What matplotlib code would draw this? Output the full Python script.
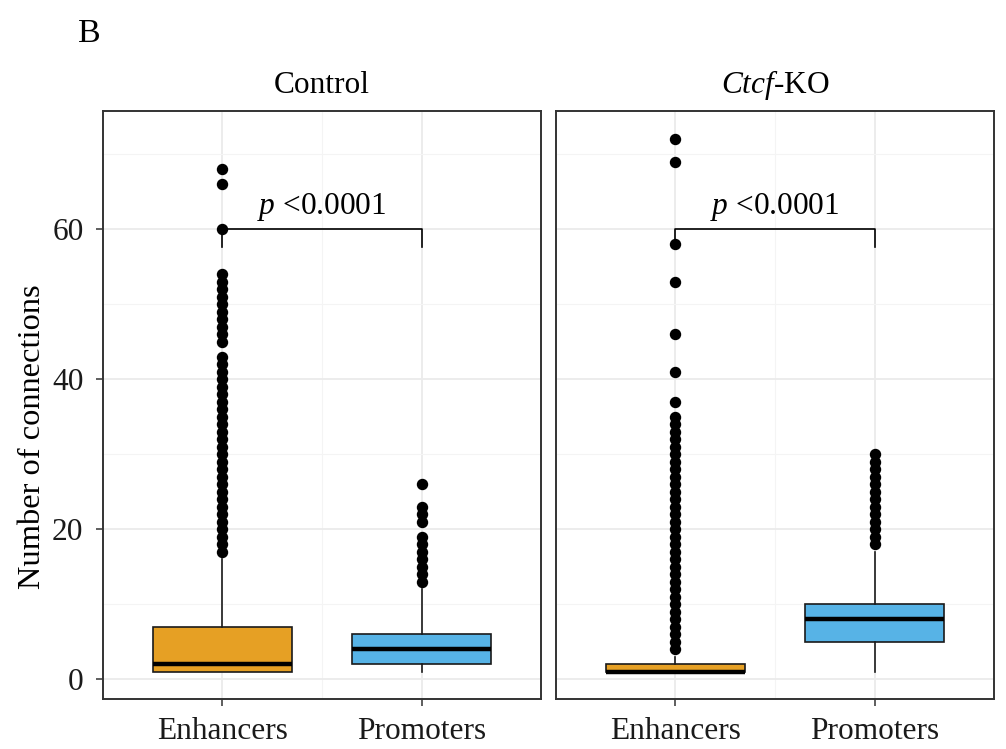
import matplotlib
matplotlib.use("Agg")
import matplotlib.pyplot as plt

plt.rcParams["font.family"] = ["Liberation Serif", "DejaVu Serif"]
plt.rcParams["mathtext.fontset"] = "custom"
plt.rcParams["mathtext.rm"] = "Liberation Serif"
plt.rcParams["mathtext.it"] = "Liberation Serif:italic"

# box summaries per panel: [Enhancers, Promoters]
categories = ["Enhancers", "Promoters"]
panels = ["Control", r"$\it{Ctcf}$-KO"]

ctrl_q1 = [1, 2]
ctrl_med = [2, 4]
ctrl_q3 = [7, 6]
ctrl_lo = [1, 1]
ctrl_hi = [16, 12]
ctrl_enh_out = [17, 18, 19, 20, 21, 22, 23, 24, 25, 26, 27, 28, 29, 30, 31, 32,
                33, 34, 35, 36, 37, 38, 39, 40, 41, 42, 43, 45, 46, 47, 48, 49,
                50, 51, 52, 53, 54, 60, 66, 68]
ctrl_pro_out = [13, 14, 15, 16, 17, 18, 19, 21, 22, 23, 26]

ko_q1 = [1, 5]
ko_med = [1, 8]
ko_q3 = [2, 10]
ko_lo = [1, 1]
ko_hi = [3, 17]
ko_enh_out = [4, 5, 6, 7, 8, 9, 10, 11, 12, 13, 14, 15, 16, 17, 18, 19, 20,
              21, 22, 23, 24, 25, 26, 27, 28, 29, 30, 31, 32, 33, 34, 35, 37,
              41, 46, 53, 58, 69, 72]
ko_pro_out = [18, 19, 20, 21, 22, 23, 24, 25, 26, 27, 28, 29, 30]

bracket_y = 60
p_label = "<0.0001"

fill_colors = ["#E6A024", "#57B3E6"]
fs = 22.6


def make_stats(q1, med, q3, lo, hi, outliers):
    stats = []
    for i in range(len(q1)):
        stats.append(dict(q1=q1[i], med=med[i], q3=q3[i],
                          whislo=lo[i], whishi=hi[i], fliers=outliers[i]))
    return stats


fig = plt.figure(figsize=(10.06, 7.49), dpi=100)
ax_l = fig.add_axes([0.1024, 0.0668, 0.4354, 0.7850])
ax_r = fig.add_axes([0.5527, 0.0668, 0.4354, 0.7850])

all_stats = [
    make_stats(ctrl_q1, ctrl_med, ctrl_q3, ctrl_lo, ctrl_hi, [ctrl_enh_out, ctrl_pro_out]),
    make_stats(ko_q1, ko_med, ko_q3, ko_lo, ko_hi, [ko_enh_out, ko_pro_out]),
]

for ax, stats, title in zip([ax_l, ax_r], all_stats, panels):
    ax.set_axisbelow(True)
    bp = ax.bxp(stats, positions=[1, 2], widths=0.7, patch_artist=True,
                showcaps=False,
                boxprops=dict(edgecolor="#1a1a1a", linewidth=1.2),
                medianprops=dict(color="black", linewidth=3.2),
                whiskerprops=dict(color="#1a1a1a", linewidth=1.2),
                flierprops=dict(marker="o", markerfacecolor="black",
                                markeredgecolor="black", markersize=7.2),
                zorder=3)
    for patch, c in zip(bp["boxes"], fill_colors):
        patch.set_facecolor(c)

    # significance bracket
    tip = 2.3
    ax.plot([1, 1, 2, 2], [bracket_y - tip, bracket_y, bracket_y, bracket_y - tip],
            color="black", linewidth=1.2, zorder=2)
    ax.text(1.5, bracket_y + 2.1, r"$\it{p}$ " + p_label, ha="center",
            va="baseline", fontsize=fs)

    ax.set_title(title, fontsize=fs, pad=13)
    ax.set_xlim(0.4, 2.6)
    ax.set_ylim(-2.66, 75.8)
    ax.set_xticks([1, 2])
    ax.set_xticklabels(categories)
    ax.set_yticks([0, 20, 40, 60])
    ax.set_yticks([10, 30, 50, 70], minor=True)
    ax.set_xticks([1.5], minor=True)
    ax.grid(True, which="major", color="#EBEBEB", linewidth=1.3)
    ax.grid(True, which="minor", color="#F4F4F4", linewidth=0.8)
    ax.tick_params(axis="both", which="major", length=5, width=1.1,
                   color="#333333", labelsize=fs, labelcolor="#1a1a1a")
    ax.tick_params(axis="x", which="major", pad=8)
    ax.tick_params(axis="y", which="major", pad=9)
    ax.tick_params(axis="both", which="minor", length=0)
    for s in ax.spines.values():
        s.set_color("#333333")
        s.set_linewidth(1.4)

ax_r.tick_params(axis="y", which="major", labelleft=False, length=0)
ax_l.set_ylabel("Number of connections", fontsize=23.4)
ax_l.yaxis.set_label_coords(-0.128, 0.4465)

fig.text(0.078, 0.955, "B", fontsize=24.5, va="center")

fig.savefig("out.png", dpi=100)
